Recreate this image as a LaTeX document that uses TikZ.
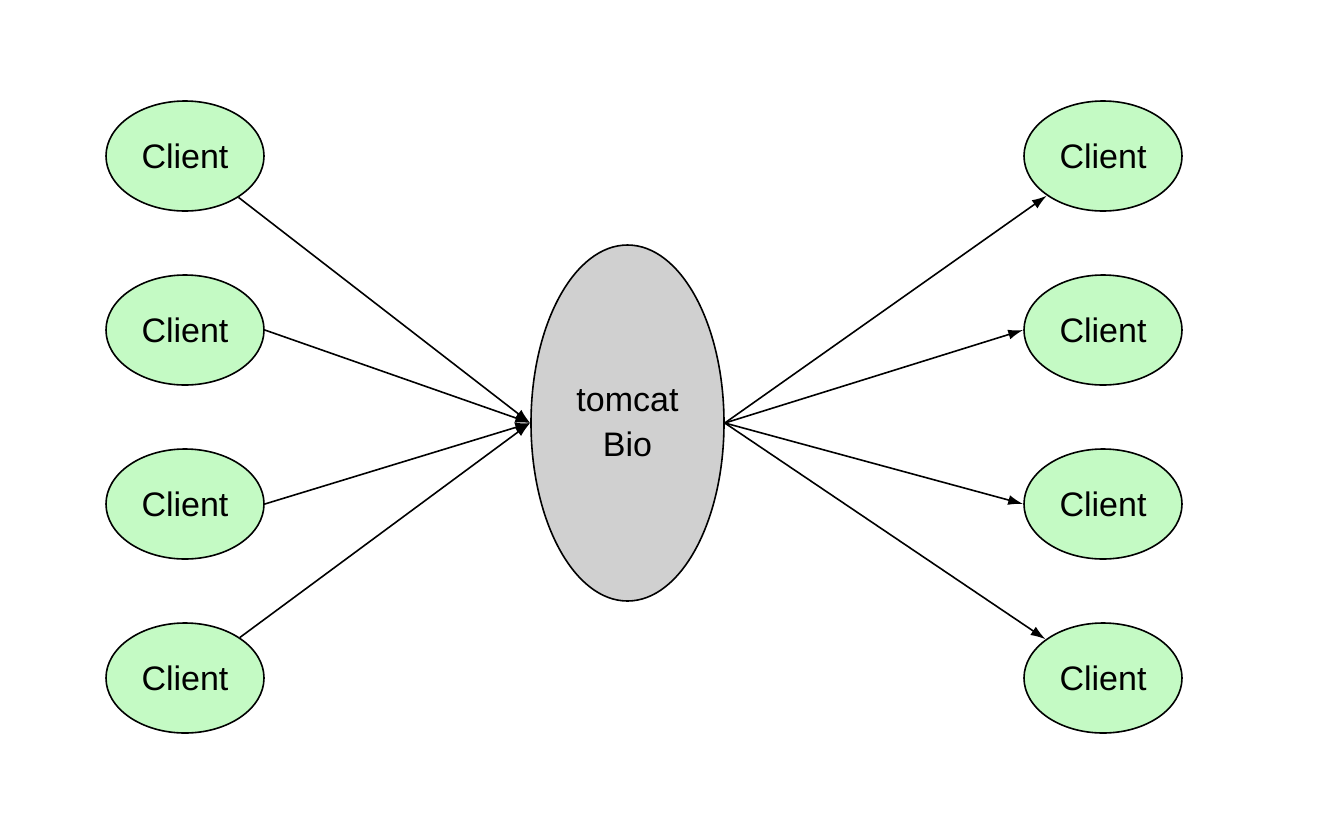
\documentclass[tikz,border=0pt]{standalone}
\usepackage{fontspec}
\setmainfont{Liberation Sans}
\usetikzlibrary{shapes.geometric,arrows.meta}
\definecolor{cgreen}{HTML}{C4FAC4}
\definecolor{cgray}{HTML}{D0D0D0}
\begin{document}
\begin{tikzpicture}[x=1pt,y=-1pt,
  client/.style={ellipse,draw,line width=1.6pt,fill=cgreen,minimum width=158pt,minimum height=110pt,inner sep=0pt,font=\fontsize{34}{40}\selectfont},
  server/.style={ellipse,draw,line width=1.6pt,fill=cgray,minimum width=193pt,minimum height=356pt,inner sep=0pt,align=center,font=\fontsize{34}{45}\selectfont},
  conn/.style={line width=1.6pt,-{Latex[length=15pt,width=10pt]}}]
\useasboundingbox (0,0) rectangle (1320,836);
\node[server] (tom) at (627.5,423) {tomcat\\Bio};
\node[client] (l1) at (185,156) {Client};
\node[client] (l2) at (185,330) {Client};
\node[client] (l3) at (185,504) {Client};
\node[client] (l4) at (185,678) {Client};
\node[client] (r1) at (1103,156) {Client};
\node[client] (r2) at (1103,330) {Client};
\node[client] (r3) at (1103,504) {Client};
\node[client] (r4) at (1103,678) {Client};
\draw[conn] (l1) -- (tom.west);
\draw[conn] (l2.east) -- (tom.west);
\draw[conn] (l3.east) -- (tom.west);
\draw[conn] (l4) -- (tom.west);
\draw[conn] (tom.east) -- (r1);
\draw[conn] (tom.east) -- (r2.west);
\draw[conn] (tom.east) -- (r3.west);
\draw[conn] (tom.east) -- (r4);
\end{tikzpicture}
\end{document}
